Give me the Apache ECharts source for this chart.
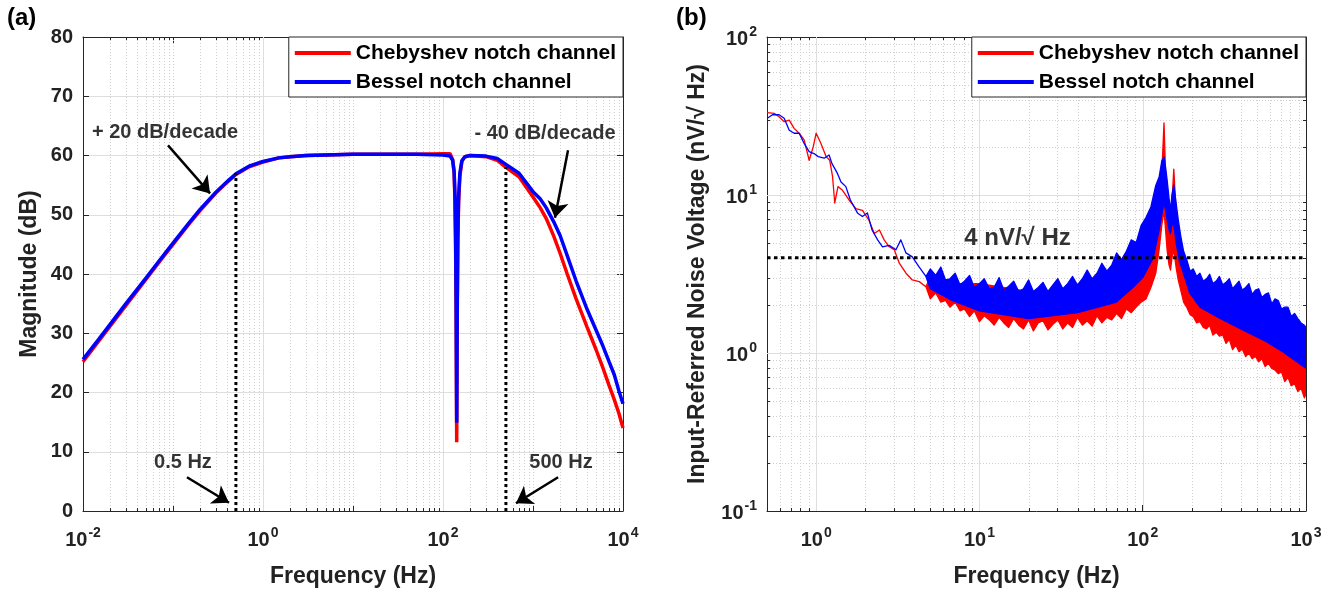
<!DOCTYPE html>
<html>
<head>
<meta charset="utf-8">
<script src="https://cdn.jsdelivr.net/npm/echarts@6/dist/echarts.min.js"></script>
<style>
html,body{margin:0;padding:0;background:#fff;}
#c{width:1340px;height:593px;}
</style>
</head>
<body>
<div id="c"></div>
<script>
// ---------------- data: panel (a) magnitude response ----------------
const magFreq = [0.01,0.015,0.02,0.03,0.05,0.07,0.1,0.15,0.2,0.3,0.4,0.5,0.7,1,1.5,2,3,5,10,20,50,100,120,128,133,136,138,140,142,144,146,149,154,162,175,200,300,400,500,700,1000,1200,1400,1700,2000,2400,3000,4000,5000,6000,7000,8000,9000,10000];
const magCheby = [25.2,28.7,31.2,34.7,39.1,42.0,45.0,48.4,50.7,53.7,55.5,56.8,58.1,58.9,59.6,59.8,60.0,60.1,60.2,60.2,60.2,60.3,60.3,59.3,57.0,52.0,45.0,33.0,11.6,33.0,45.0,52.0,56.5,59.0,59.8,60.0,59.8,59.2,58.0,56.4,53.0,51.2,49.4,46.4,43.5,40.0,35.9,31.0,27.3,24.1,21.2,18.8,16.5,14.0];
const magBessel = [25.6,29.0,31.5,35.0,39.3,42.2,45.2,48.6,50.9,53.8,55.6,56.9,58.2,59.0,59.6,59.8,60.0,60.1,60.2,60.2,60.2,60.1,59.9,59.2,57.3,53.0,46.5,35.0,14.9,35.0,46.5,53.0,57.0,59.1,59.8,60.0,59.9,59.5,58.5,57.0,53.9,52.7,51.2,48.8,46.5,43.1,38.9,34.0,30.6,27.8,25.2,23.0,20.3,18.1];
const cutoffFreq = [0.5, 500];          // dotted cutoff markers (Hz)
const cutoffTop = [57.0, 58.0];         // dB where the marker meets the curve
const annotTextA = ['+ 20 dB/decade', '- 40 dB/decade', '0.5 Hz', '500 Hz'];
const annotFreqA = [0.0815, 1360, 0.129, 2050];
const annotValA = [63.9, 63.8, 8.2, 8.2];
// arrows: from (freq, dB) to (freq, dB)
const arrowFromFreqA = [0.088, 2450, 0.143, 1900];
const arrowFromValA = [61.7, 60.9, 5.7, 5.7];
const arrowToFreqA = [0.258, 1754, 0.419, 647];
const arrowToValA = [53.6, 49.5, 1.4, 1.3];
const xLabelExpA = [-2, 0, 2, 4];

// ---------------- data: panel (b) input-referred noise ----------------
// low-frequency part: single noisy traces
const chebyLowFreq = [0.502,0.553,0.593,0.637,0.684,0.733,0.787,0.844,0.906,0.96,1.0,1.07,1.15,1.21,1.26,1.30,1.36,1.45,1.59,1.75,1.92,2.11,2.27,2.44,2.61,2.80,3.01,3.23,3.55,3.88,4.28,4.7];
const chebyLowVal = [33.2,32.9,31.3,29.1,29.8,26.4,24.6,22.3,16.6,20.2,24.6,21.2,17.5,16.6,13.1,8.9,11.3,10.7,9.3,8.2,8.0,6.9,5.7,6.0,5.2,4.7,4.5,3.7,3.2,2.9,2.83,2.63];
const besselLowFreq = [0.502,0.54,0.593,0.637,0.684,0.733,0.787,0.844,0.906,0.97,1.03,1.12,1.2,1.25,1.35,1.42,1.52,1.62,1.79,1.92,2.06,2.2,2.38,2.55,2.8,3.08,3.3,3.55,3.88,4.28,4.7];
const besselLowVal = [30.6,32.2,32.2,30.6,25.7,24.6,24.6,21.2,18.8,18.3,17.5,17.1,17.9,15.8,13.7,12.1,11.3,9.3,7.7,7.3,7.7,6.0,5.2,4.7,4.8,4.5,5.2,4.3,4.06,3.5,3.05];
// dense noisy region: visible edges (Bessel upper edge, Chebyshev lower edge)
const noiseFreqDense = [
  5.0,5.4,5.8,6.2,6.6,7.1,7.6,8.1,8.7,9.3,
  10,10.7,11.5,12.3,13.2,14.1,15.1,16.2,17.4,18.6,
  20,21.4,22.9,24.5,26.3,28.2,30.2,32.4,34.7,37.2,
  39.8,42.7,45.7,49,52.5,56.2,60.3,64.6,69.2,74.1,
  79.4,85.1,91.2,97.7,104.7,112.2,120.2,126,131,135,
  138,141,145,148,151,155,160,165,171,178,
  186,195,204,214,224,235,246,257,269,282,
  295,309,324,339,355,372,389,407,427,447,
  468,490,513,537,562,589,617,646,676,708,
  741,776,813,851,891,933,977,1000];
const besselHiDense = [
  3.4,3.1,3.5,2.9,2.95,3.2,2.7,2.85,3.1,2.6,
  2.75,2.95,2.55,2.6,3.0,2.5,2.65,2.85,2.45,2.55,
  2.9,2.45,2.6,2.8,2.45,2.7,2.95,2.55,2.75,3.05,
  2.7,2.95,3.35,2.95,3.2,3.7,3.3,3.6,4.3,3.9,
  4.4,5.2,5.0,6.4,7.2,8.4,11.5,13,16.5,17.4,
  15,12.5,9.5,8.0,10,11.6,9.0,7.0,5.5,4.4,
  3.9,3.3,3.4,3.05,3.2,2.85,2.95,3.15,2.75,2.85,
  3.05,2.7,2.8,2.95,2.55,2.7,2.85,2.5,2.6,2.75,
  2.35,2.5,2.55,2.25,2.35,2.4,2.05,2.2,2.15,1.9,
  1.95,1.95,1.7,1.78,1.65,1.55,1.5,1.45];
const chebyLoDense = [
  2.2,2.4,2.1,2.15,1.95,2.1,1.85,1.9,1.7,1.85,
  1.58,1.72,1.62,1.5,1.68,1.55,1.45,1.65,1.5,1.42,
  1.62,1.38,1.55,1.6,1.4,1.52,1.62,1.42,1.55,1.45,
  1.68,1.5,1.6,1.48,1.72,1.55,1.68,1.62,1.78,1.65,
  1.9,1.8,1.95,2.1,2.2,2.6,3.2,4.5,6.5,8.0,
  6.0,4.5,3.6,3.35,4.0,4.5,3.5,2.9,2.5,2.1,
  1.95,1.75,1.7,1.55,1.58,1.45,1.42,1.5,1.3,1.35,
  1.28,1.3,1.15,1.22,1.05,1.12,1.02,1.06,0.95,1.0,
  0.92,0.95,0.88,0.92,0.82,0.86,0.8,0.78,0.74,0.76,
  0.66,0.7,0.62,0.64,0.57,0.6,0.52,0.55];
// mostly hidden edges (Chebyshev upper edge, Bessel lower edge)
const noiseFreqSparse = [5.0,6.8,10,20,40,69,87,100,116,126,131,135,138,141,145,148,151,155,160,168,194,224,300,410,573,720,1000];
const chebyHiSparse = [3.0,2.75,2.75,2.45,2.5,3.2,3.7,5.5,7.7,11,14,28.6,14,9.3,7.0,6.0,9.0,14.6,8.0,4.2,2.8,2.5,2.2,1.75,1.46,1.25,0.95];
const besselLoSparse = [2.55,2.15,1.85,1.65,1.8,2.1,2.6,3.0,4.0,6.0,7.5,9.0,8.0,7.0,6.0,5.7,6.5,6.5,5.0,3.8,2.4,1.95,1.65,1.4,1.18,1.02,0.8];
const noiseLevel = 4;                 // nV/sqrt(Hz) reference
const noiseLevelRange = [0.5, 1000];
const annotTextB = ['4 nV/\u221a Hz'];
const annotFreqB = [17.1];
const annotValB = [5.34];
const xLabelExpB = [0, 1, 2, 3];
const yLabelExpB = [-1, 0, 1, 2];
const seriesNames = ['Chebyshev notch channel', 'Bessel notch channel'];
const seriesColors = ['#ff0000', '#0000ff'];

// ---------------- helpers ----------------
const FONT = '"Liberation Sans", Arial, Helvetica, sans-serif';
const TXT = '#222222';
const AXC = '#262626';
function decadeTicks(loExp, hiExp, includeDecades) {
  const out = [];
  for (let e = loExp; e < hiExp; e++) {
    const b = Math.pow(10, e);
    if (includeDecades && includeDecades.indexOf(e) >= 0) out.push(b);
    for (let m = 2; m <= 9; m++) out.push(m * b);
  }
  return out;
}
function supFmt(allowed) {
  return function (v) {
    const l = Math.log10(v);
    const e = Math.round(l);
    if (Math.abs(l - e) > 1e-6 || allowed.indexOf(e) < 0) return '';
    return '{b|10}{s|' + e + '}';
  };
}
const supRich = {
  b: {fontSize: 20, fontWeight: 'bold', fontFamily: FONT, color: TXT, lineHeight: 24, verticalAlign: 'bottom'},
  s: {fontSize: 14, fontWeight: 'bold', fontFamily: FONT, color: TXT, lineHeight: 14, verticalAlign: 'top', padding: [0, 0, 0, 1]}
};
function vGrid(xi, yi, values, yRef, dotted, tickLen) {
  return {
    type: 'custom', xAxisIndex: xi, yAxisIndex: yi, silent: true, z: 1, clip: false,
    data: values.map(v => [v, yRef]),
    renderItem: function (params, api) {
      const cs = params.coordSys;
      const x = Math.round(api.coord([api.value(0), yRef])[0]) + 0.5;
      const ch = [{type: 'line', shape: {x1: x, y1: cs.y, x2: x, y2: cs.y + cs.height},
        style: {stroke: dotted ? '#cfcfcf' : '#dedede', lineWidth: 1, lineDash: dotted ? [1, 2] : null}}];
      if (tickLen) {
        ch.push({type: 'line', shape: {x1: x, y1: cs.y + cs.height, x2: x, y2: cs.y + cs.height - tickLen}, style: {stroke: AXC, lineWidth: 1}});
        ch.push({type: 'line', shape: {x1: x, y1: cs.y, x2: x, y2: cs.y + tickLen}, style: {stroke: AXC, lineWidth: 1}});
      }
      return {type: 'group', children: ch};
    }
  };
}
function hGrid(xi, yi, values, xRef, dotted, tickLen) {
  return {
    type: 'custom', xAxisIndex: xi, yAxisIndex: yi, silent: true, z: 1, clip: false,
    data: values.map(v => [xRef, v]),
    renderItem: function (params, api) {
      const cs = params.coordSys;
      const y = Math.round(api.coord([xRef, api.value(1)])[1]) + 0.5;
      const ch = [{type: 'line', shape: {x1: cs.x, y1: y, x2: cs.x + cs.width, y2: y},
        style: {stroke: dotted ? '#cfcfcf' : '#dedede', lineWidth: 1, lineDash: dotted ? [1, 2] : null}}];
      if (tickLen) {
        ch.push({type: 'line', shape: {x1: cs.x, y1: y, x2: cs.x + tickLen, y2: y}, style: {stroke: AXC, lineWidth: 1}});
        ch.push({type: 'line', shape: {x1: cs.x + cs.width, y1: y, x2: cs.x + cs.width - tickLen, y2: y}, style: {stroke: AXC, lineWidth: 1}});
      }
      return {type: 'group', children: ch};
    }
  };
}
// noise trace: a thin line at low frequency that widens into a dense band
function band(name, lowF, lowV, upF, upV, dnF, dnV, color, z) {
  return {
    name: name, type: 'custom', xAxisIndex: 2, yAxisIndex: 2, z: z, clip: true,
    itemStyle: {color: color},
    data: [[lowF[0], lowV[0]]],
    renderItem: function (params, api) {
      const pts = [];
      for (let i = 0; i < lowF.length; i++) pts.push(api.coord([lowF[i], lowV[i]]));
      for (let i = 0; i < upF.length; i++) pts.push(api.coord([upF[i], upV[i]]));
      for (let i = dnF.length - 1; i >= 0; i--) pts.push(api.coord([dnF[i], dnV[i]]));
      for (let i = lowF.length - 1; i >= 0; i--) pts.push(api.coord([lowF[i], lowV[i]]));
      return {type: 'polygon', shape: {points: pts}, style: {fill: color, stroke: color, lineWidth: 1.3, lineJoin: 'round'}};
    }
  };
}
function axisBase(extra) {
  return Object.assign({
    axisLine: {show: true, onZero: false, lineStyle: {color: AXC, width: 1}},
    axisTick: {show: true, inside: true, length: 6, lineStyle: {color: AXC}},
    splitLine: {show: false},
    minorTick: {show: false},
    axisLabel: {show: false},
    nameTextStyle: {fontSize: 23, fontWeight: 'bold', fontFamily: FONT, color: TXT}
  }, extra);
}
const annotLabel = {show: true, position: 'inside', fontSize: 20, fontWeight: 'bold', fontFamily: FONT, color: '#000'};
function legendAt(rightEdge) {
  return {right: 1340 - rightEdge, top: 37, orient: 'vertical', icon: 'rect', itemWidth: 56, itemHeight: 4, itemGap: 7,
    padding: [5, 7, 4, 6], backgroundColor: '#fff', borderColor: AXC, borderWidth: 1, borderRadius: 0,
    selectedMode: false, z: 20,
    textStyle: {fontSize: 21, fontWeight: 'bold', fontFamily: FONT, color: '#000', lineHeight: 22},
    data: seriesNames.map((n, i) => ({name: n, itemStyle: {color: seriesColors[i]}}))};
}

const option = {
  animation: false,
  backgroundColor: '#ffffff',
  grid: [
    {left: 83, top: 37, width: 540, height: 474, containLabel: false, outerBoundsMode: 'none'},
    {left: 767, top: 37, width: 539, height: 474, containLabel: false, outerBoundsMode: 'none'}
  ],
  xAxis: [
    axisBase({type: 'log', logBase: 10, gridIndex: 0, min: 0.01, max: 10000, position: 'bottom',
      name: 'Frequency (Hz)', nameLocation: 'middle', nameGap: 54,
      axisLabel: {show: true, margin: 15, formatter: supFmt(xLabelExpA), rich: supRich}}),
    axisBase({type: 'log', logBase: 10, gridIndex: 0, min: 0.01, max: 10000, position: 'top'}),
    axisBase({type: 'log', logBase: 10, gridIndex: 1, min: 0.5, max: 1000, position: 'bottom',
      name: 'Frequency (Hz)', nameLocation: 'middle', nameGap: 54,
      axisLabel: {show: true, margin: 15, formatter: supFmt(xLabelExpB), rich: supRich}}),
    axisBase({type: 'log', logBase: 10, gridIndex: 1, min: 0.5, max: 1000, position: 'top'})
  ],
  yAxis: [
    axisBase({type: 'value', gridIndex: 0, min: 0, max: 80, interval: 10, position: 'left',
      name: 'Magnitude (dB)', nameLocation: 'middle', nameGap: 42,
      splitLine: {show: true, lineStyle: {color: '#dedede', width: 1}},
      axisLabel: {show: true, margin: 10, fontSize: 20, fontWeight: 'bold', fontFamily: FONT, color: TXT}}),
    axisBase({type: 'value', gridIndex: 0, min: 0, max: 80, interval: 10, position: 'right'}),
    axisBase({type: 'log', logBase: 10, gridIndex: 1, min: 0.1, max: 100, position: 'left',
      name: 'Input-Referred Noise Voltage (nV/\u221a Hz)', nameLocation: 'middle', nameGap: 58,
      axisLabel: {show: true, margin: 10, formatter: supFmt(yLabelExpB), rich: supRich}}),
    axisBase({type: 'log', logBase: 10, gridIndex: 1, min: 0.1, max: 100, position: 'right'})
  ],
  legend: [legendAt(623), legendAt(1306)],
  graphic: [
    {type: 'text', left: 7, top: 6, style: {text: '(a)', fontSize: 24, fontWeight: 'bold', fontFamily: FONT, fill: '#000'}},
    {type: 'text', left: 676, top: 6, style: {text: '(b)', fontSize: 24, fontWeight: 'bold', fontFamily: FONT, fill: '#000'}}
  ],
  series: [
    // panel (a) grid
    vGrid(0, 0, [1, 100], 0, false, 0),
    vGrid(0, 0, decadeTicks(-2, 4, [-1, 1, 3]), 0, true, 3),
    // panel (b) grid
    vGrid(2, 2, [1, 10, 100], 1, false, 0),
    vGrid(2, 2, decadeTicks(-1, 3, []).filter(v => v > 0.5 && v < 1000), 1, true, 3),
    hGrid(2, 2, [1, 10], 1, false, 0),
    hGrid(2, 2, decadeTicks(-1, 2, []), 1, true, 3),
    // panel (a) curves
    {name: seriesNames[0], type: 'line', xAxisIndex: 0, yAxisIndex: 0, showSymbol: false, symbol: 'none', z: 3,
      lineStyle: {color: seriesColors[0], width: 3.5}, itemStyle: {color: seriesColors[0]},
      data: magFreq.map((f, i) => [f, magCheby[i]])},
    {name: seriesNames[1], type: 'line', xAxisIndex: 0, yAxisIndex: 0, showSymbol: false, symbol: 'none', z: 4,
      lineStyle: {color: seriesColors[1], width: 3.5}, itemStyle: {color: seriesColors[1]},
      data: magFreq.map((f, i) => [f, magBessel[i]])},
    // cutoff markers (a)
    ...cutoffFreq.map((f, i) => ({type: 'line', xAxisIndex: 0, yAxisIndex: 0, symbol: 'none', z: 6, silent: true,
      lineStyle: {color: '#000', width: 3, type: [3, 3]}, data: [[f, 0], [f, cutoffTop[i]]]})),
    // arrows (a)
    {type: 'line', xAxisIndex: 0, yAxisIndex: 0, symbol: 'none', z: 7, silent: true, data: [],
      markLine: {silent: true, animation: false, symbol: ['none', 'arrow'], symbolSize: 16,
        lineStyle: {color: '#000', width: 2.5, type: 'solid'}, label: {show: false},
        data: arrowFromFreqA.map((f, i) => [{coord: [f, arrowFromValA[i]]}, {coord: [arrowToFreqA[i], arrowToValA[i]]}])}},
    // annotations (a)
    {type: 'scatter', xAxisIndex: 0, yAxisIndex: 0, symbolSize: 0, z: 8, silent: true,
      label: Object.assign({formatter: p => annotTextA[p.dataIndex]}, annotLabel),
      data: annotFreqA.map((f, i) => [f, annotValA[i]])},
    // panel (b) noise traces
    band(seriesNames[0], chebyLowFreq, chebyLowVal, noiseFreqSparse, chebyHiSparse, noiseFreqDense, chebyLoDense, seriesColors[0], 3),
    band(seriesNames[1], besselLowFreq, besselLowVal, noiseFreqDense, besselHiDense, noiseFreqSparse, besselLoSparse, seriesColors[1], 4),
    // 4 nV reference
    {type: 'line', xAxisIndex: 2, yAxisIndex: 2, symbol: 'none', z: 6, silent: true,
      lineStyle: {color: '#000', width: 3, type: [3.5, 3.5]},
      data: noiseLevelRange.map(f => [f, noiseLevel])},
    {type: 'scatter', xAxisIndex: 2, yAxisIndex: 2, symbolSize: 0, z: 8, silent: true,
      label: Object.assign({formatter: p => annotTextB[p.dataIndex]}, annotLabel, {fontSize: 24}),
      data: annotFreqB.map((f, i) => [f, annotValB[i]])}
  ]
};
const chart = echarts.init(document.getElementById('c'), null, {renderer: 'canvas'});
chart.setOption(option);
</script>
</body>
</html>
